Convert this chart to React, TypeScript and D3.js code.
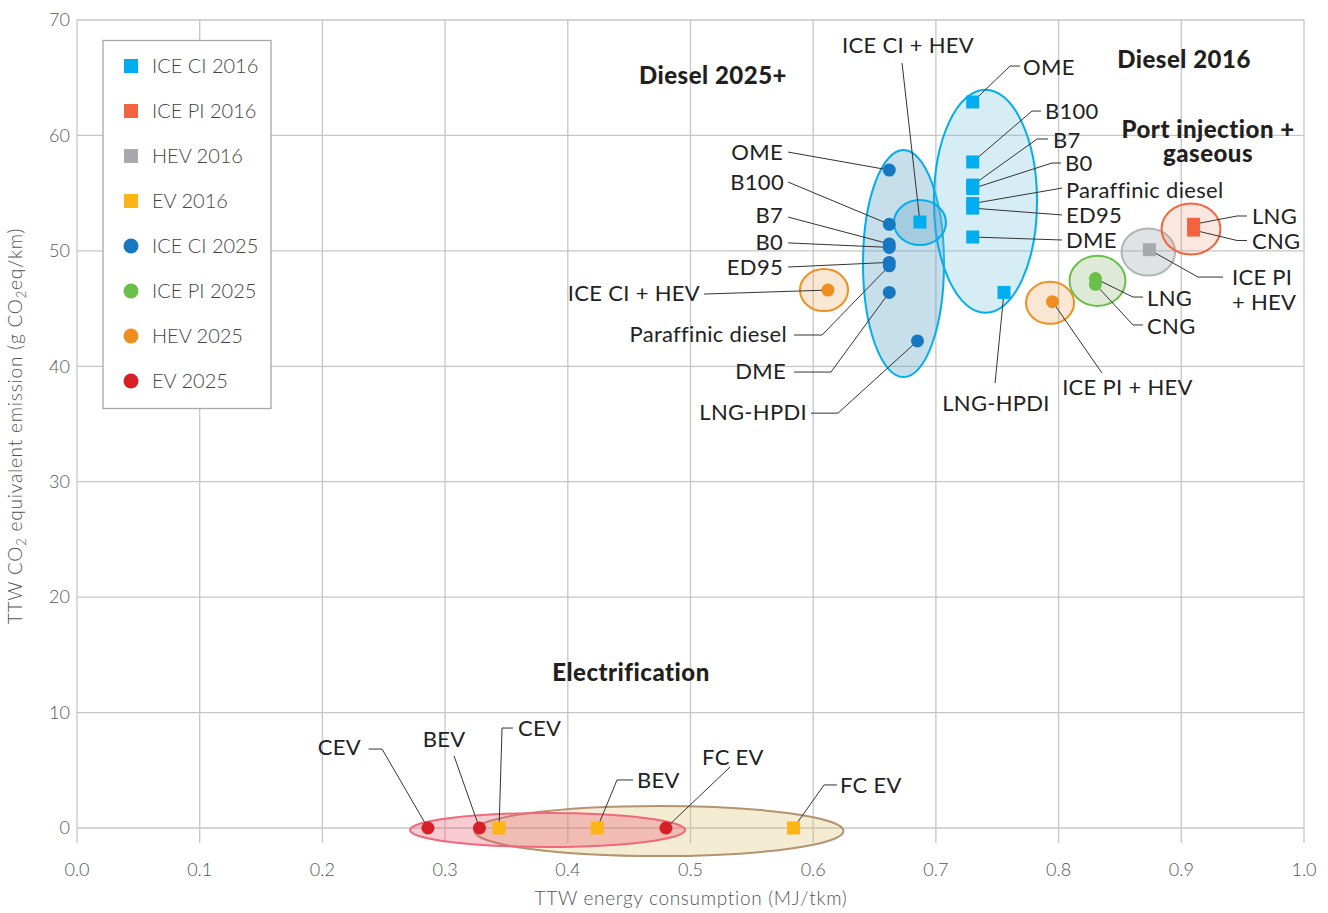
import * as d3 from 'd3';

// axis ticks
const xTicks = [0, 0.1, 0.2, 0.3, 0.4, 0.5, 0.6, 0.7, 0.8, 0.9, 1.0];
const yTicks = [0, 10, 20, 30, 40, 50, 60, 70];

// legend / series
const seriesNames = ['ICE CI 2016', 'ICE PI 2016', 'HEV 2016', 'EV 2016', 'ICE CI 2025', 'ICE PI 2025', 'HEV 2025', 'EV 2025'];
const seriesColors = ['#00aeef', '#f26440', '#a7a9ac', '#fdb515', '#1677c2', '#6abf4b', '#ee9021', '#d71f27'];
const seriesShapes = ['square', 'square', 'square', 'square', 'circle', 'circle', 'circle', 'circle'];

type Pt = { name: string; x: number; y: number };

// TTW energy (MJ/tkm), TTW CO2eq (g/km)
const iceCi2016: Pt[] = [
  { name: 'OME', x: 0.730, y: 62.9 },
  { name: 'B100', x: 0.730, y: 57.7 },
  { name: 'B7', x: 0.730, y: 55.7 },
  { name: 'B0', x: 0.730, y: 55.4 },
  { name: 'Paraffinic diesel', x: 0.730, y: 54.1 },
  { name: 'ED95', x: 0.730, y: 53.7 },
  { name: 'DME', x: 0.730, y: 51.2 },
  { name: 'LNG-HPDI', x: 0.7555, y: 46.4 },
  { name: 'ICE CI + HEV', x: 0.687, y: 52.5 },
];
const icePi2016: Pt[] = [
  { name: 'LNG', x: 0.910, y: 52.3 },
  { name: 'CNG', x: 0.910, y: 51.8 },
];
const hev2016: Pt[] = [{ name: 'ICE PI + HEV', x: 0.874, y: 50.1 }];
const ev2016: Pt[] = [
  { name: 'CEV', x: 0.344, y: 0 },
  { name: 'BEV', x: 0.424, y: 0 },
  { name: 'FC EV', x: 0.584, y: 0 },
];
const iceCi2025: Pt[] = [
  { name: 'OME', x: 0.662, y: 57.0 },
  { name: 'B100', x: 0.662, y: 52.3 },
  { name: 'B7', x: 0.662, y: 50.6 },
  { name: 'B0', x: 0.662, y: 50.3 },
  { name: 'ED95', x: 0.662, y: 49.0 },
  { name: 'Paraffinic diesel', x: 0.662, y: 48.7 },
  { name: 'DME', x: 0.662, y: 46.4 },
  { name: 'LNG-HPDI', x: 0.685, y: 42.2 },
];
const icePi2025: Pt[] = [
  { name: 'LNG', x: 0.830, y: 47.6 },
  { name: 'CNG', x: 0.830, y: 47.1 },
];
const hev2025: Pt[] = [
  { name: 'ICE CI + HEV', x: 0.612, y: 46.6 },
  { name: 'ICE PI + HEV', x: 0.795, y: 45.6 },
];
const ev2025: Pt[] = [
  { name: 'CEV', x: 0.286, y: 0 },
  { name: 'BEV', x: 0.328, y: 0 },
  { name: 'FC EV', x: 0.480, y: 0 },
];

const allSeries = [iceCi2016, icePi2016, hev2016, ev2016, iceCi2025, icePi2025, hev2025, ev2025];

// group envelopes: centre and radii in data units
const groups = [
  { cx: 0.4743, cy: -0.26, rx: 0.1504, ry: 2.17, fill: '#d9bc6e', op: 0.3, stroke: '#b39472' },
  { cx: 0.3835, cy: -0.17, rx: 0.1121, ry: 1.47, fill: '#e8506a', op: 0.3, stroke: '#f0687c' },
  { cx: 0.6736, cy: 48.9, rx: 0.033, ry: 9.83, fill: '#5ba3c2', op: 0.35, stroke: '#00aeef' },
  { cx: 0.7404, cy: 54.3, rx: 0.042, ry: 9.66, fill: '#7cc4de', op: 0.3, stroke: '#00aeef' },
  { cx: 0.687, cy: 52.45, rx: 0.0212, ry: 1.95, fill: '#5ba3c2', op: 0.3, stroke: '#00aeef' },
  { cx: 0.6088, cy: 46.6, rx: 0.0196, ry: 1.82, fill: '#e8a050', op: 0.25, stroke: '#ee9021' },
  { cx: 0.793, cy: 45.5, rx: 0.0196, ry: 1.82, fill: '#e8a050', op: 0.25, stroke: '#ee9021' },
  { cx: 0.8317, cy: 47.4, rx: 0.0228, ry: 2.17, fill: '#7aa860', op: 0.25, stroke: '#6abf4b' },
  { cx: 0.8731, cy: 49.9, rx: 0.0218, ry: 2.04, fill: '#8e9a9e', op: 0.28, stroke: '#b0b5b7' },
  { cx: 0.9079, cy: 51.9, rx: 0.024, ry: 2.21, fill: '#e8906c', op: 0.22, stroke: '#f26440' },
];

type Ann = {
  lines: string[];
  lx: number; ly: number;
  anchor: 'start' | 'end' | 'middle';
  s: Pt[]; n: string;
  via: [number, number][];
};

// labels with leader lines (via = points from label side towards marker)
const annotations: Ann[] = [
  { lines: ['OME'], lx: 0.5754, ly: 58.56, anchor: 'end', s: iceCi2025, n: 'OME', via: [[0.5795, 58.56]] },
  { lines: ['B100'], lx: 0.5762, ly: 55.96, anchor: 'end', s: iceCi2025, n: 'B100', via: [[0.5795, 55.96]] },
  { lines: ['B7'], lx: 0.5754, ly: 53.11, anchor: 'end', s: iceCi2025, n: 'B7', via: [[0.5795, 52.93]] },
  { lines: ['B0'], lx: 0.5754, ly: 50.77, anchor: 'end', s: iceCi2025, n: 'B0', via: [[0.5795, 50.69]] },
  { lines: ['ED95'], lx: 0.5754, ly: 48.6, anchor: 'end', s: iceCi2025, n: 'ED95', via: [[0.5795, 48.6]] },
  { lines: ['ICE CI + HEV'], lx: 0.5077, ly: 46.35, anchor: 'end', s: hev2025, n: 'ICE CI + HEV', via: [[0.511, 46.26]] },
  { lines: ['Paraffinic diesel'], lx: 0.5786, ly: 42.8, anchor: 'end', s: iceCi2025, n: 'Paraffinic diesel', via: [[0.5844, 42.71], [0.6072, 42.71]] },
  { lines: ['DME'], lx: 0.5778, ly: 39.59, anchor: 'end', s: iceCi2025, n: 'DME', via: [[0.5844, 39.5], [0.6145, 39.5]] },
  { lines: ['LNG-HPDI'], lx: 0.5949, ly: 36.04, anchor: 'end', s: iceCi2025, n: 'LNG-HPDI', via: [[0.5982, 35.94], [0.6202, 35.94]] },
  { lines: ['ICE CI + HEV'], lx: 0.6773, ly: 67.83, anchor: 'middle', s: iceCi2016, n: 'ICE CI + HEV', via: [[0.6724, 66.27]] },

  { lines: ['OME'], lx: 0.771, ly: 65.93, anchor: 'start', s: iceCi2016, n: 'OME', via: [[0.7685, 66.01], [0.7604, 66.01]] },
  { lines: ['B100'], lx: 0.7889, ly: 62.11, anchor: 'start', s: iceCi2016, n: 'B100', via: [[0.7857, 62.11], [0.7783, 62.11]] },
  { lines: ['B7'], lx: 0.7954, ly: 59.6, anchor: 'start', s: iceCi2016, n: 'B7', via: [[0.7914, 59.69], [0.7824, 59.69]] },
  { lines: ['B0'], lx: 0.8052, ly: 57.61, anchor: 'start', s: iceCi2016, n: 'B0', via: [[0.802, 57.61], [0.7946, 57.61]] },
  { lines: ['Paraffinic diesel'], lx: 0.806, ly: 55.27, anchor: 'start', s: iceCi2016, n: 'Paraffinic diesel', via: [[0.8028, 55.44]] },
  { lines: ['ED95'], lx: 0.806, ly: 53.11, anchor: 'start', s: iceCi2016, n: 'ED95', via: [[0.8028, 53.11]] },
  { lines: ['DME'], lx: 0.806, ly: 50.94, anchor: 'start', s: iceCi2016, n: 'DME', via: [[0.8028, 50.94]] },
  { lines: ['LNG-HPDI'], lx: 0.749, ly: 36.82, anchor: 'middle', s: iceCi2016, n: 'LNG-HPDI', via: [[0.7482, 38.55]] },

  { lines: ['ICE PI + HEV'], lx: 0.8561, ly: 38.2, anchor: 'middle', s: hev2025, n: 'ICE PI + HEV', via: [[0.8354, 39.41]] },
  { lines: ['LNG'], lx: 0.8721, ly: 45.91, anchor: 'start', s: icePi2025, n: 'LNG', via: [[0.8688, 46.0], [0.8606, 46.0]] },
  { lines: ['CNG'], lx: 0.8721, ly: 43.49, anchor: 'start', s: icePi2025, n: 'CNG', via: [[0.8688, 43.58], [0.8606, 43.58]] },
  { lines: ['ICE PI', '+ HEV'], lx: 0.9413, ly: 47.74, anchor: 'start', s: hev2016, n: 'ICE PI + HEV', via: [[0.934, 47.73], [0.9136, 47.73]] },
  { lines: ['LNG'], lx: 0.9576, ly: 53.02, anchor: 'start', s: icePi2016, n: 'LNG', via: [[0.9535, 53.02], [0.9454, 53.02]] },
  { lines: ['CNG'], lx: 0.9576, ly: 50.85, anchor: 'start', s: icePi2016, n: 'CNG', via: [[0.9535, 50.9], [0.9454, 50.9]] },

  { lines: ['CEV'], lx: 0.2315, ly: 7.02, anchor: 'end', s: ev2025, n: 'CEV', via: [[0.2376, 6.84], [0.2486, 6.84]] },
  { lines: ['BEV'], lx: 0.2991, ly: 7.71, anchor: 'middle', s: ev2025, n: 'BEV', via: [[0.3073, 6.24]] },
  { lines: ['CEV'], lx: 0.3594, ly: 8.66, anchor: 'start', s: ev2016, n: 'CEV', via: [[0.3553, 8.66], [0.3464, 8.66]] },
  { lines: ['BEV'], lx: 0.4564, ly: 4.16, anchor: 'start', s: ev2016, n: 'BEV', via: [[0.4531, 4.16], [0.4401, 4.16]] },
  { lines: ['FC EV'], lx: 0.5346, ly: 6.15, anchor: 'middle', s: ev2025, n: 'FC EV', via: [[0.5322, 5.28]] },
  { lines: ['FC EV'], lx: 0.6218, ly: 3.73, anchor: 'start', s: ev2016, n: 'FC EV', via: [[0.6194, 3.73], [0.6088, 3.73]] },
];

const titles = [
  { lines: ['Diesel 2025+'], x: 0.5183, y: 65.23 },
  { lines: ['Diesel 2016'], x: 0.9022, y: 66.62 },
  { lines: ['Port injection +', 'gaseous'], x: 0.9218, y: 60.5 },
  { lines: ['Electrification'], x: 0.4515, y: 13.51 },
];

const findPt = (s: Pt[], n: string) => s.find((p) => p.name === n)!;

export default function App() {
  const W = 1328;
  const H = 913;
  const x = d3.scaleLinear().domain([0, 1]).range([77, 1304]);
  const y = d3.scaleLinear().domain([0, 70]).range([828, 20]);
  const line = d3.line<[number, number]>().x((d) => x(d[0])).y((d) => y(d[1]));
  const grid = '#c6c6c6';
  const font = "Lato, 'Open Sans', sans-serif";

  const marker = (shape: string, cx: number, cy: number, color: string, size: number, key: string) =>
    shape === 'square' ? (
      <rect key={key} x={cx - size / 2} y={cy - size / 2} width={size} height={size} fill={color} />
    ) : (
      <circle key={key} cx={cx} cy={cy} r={size / 2} fill={color} />
    );

  return (
    <svg width={W} height={H} style={{ position: 'absolute', left: 0, top: 0, display: 'block', background: '#fff' }} fontFamily={font}>
      {/* grid */}
      {xTicks.map((t) => (
        <line key={'gx' + t} x1={x(t)} x2={x(t)} y1={y(70)} y2={y(0) + 15} stroke={grid} strokeWidth={1.3} />
      ))}
      {yTicks.map((t) => (
        <line key={'gy' + t} x1={x(0)} x2={x(1)} y1={y(t)} y2={y(t)} stroke={grid} strokeWidth={1.3} />
      ))}
      {xTicks.map((t) => (
        <text key={'tx' + t} x={x(t)} y={y(0) + 48} textAnchor="middle" fontSize={18} fontWeight={300} fill="#555">
          {t.toFixed(1)}
        </text>
      ))}
      {yTicks.map((t) => (
        <text key={'ty' + t} x={70} y={y(t)} dy="0.35em" textAnchor="end" fontSize={18} fontWeight={300} fill="#555">
          {t}
        </text>
      ))}
      <text x={691} y={905} textAnchor="middle" fontSize={19} fontWeight={300} letterSpacing={0.7} fill="#555">
        TTW energy consumption (MJ/tkm)
      </text>
      <text transform="translate(22,426) rotate(-90)" textAnchor="middle" fontSize={19} fontWeight={300} letterSpacing={0.8} fill="#555">
        TTW CO<tspan fontSize={13} dy={4}>2</tspan>
        <tspan dy={-4}> equivalent emission (g CO</tspan>
        <tspan fontSize={13} dy={4}>2</tspan>
        <tspan dy={-4}>eq/km)</tspan>
      </text>

      {/* group envelopes */}
      {groups.map((g, i) => (
        <ellipse
          key={'g' + i}
          cx={x(g.cx)}
          cy={y(g.cy)}
          rx={x(g.rx) - x(0)}
          ry={y(0) - y(g.ry)}
          fill={g.fill}
          fillOpacity={g.op}
          stroke={g.stroke}
          strokeWidth={2}
        />
      ))}

      {/* leader lines */}
      {annotations.map((a, i) => {
        const p = findPt(a.s, a.n);
        const pts: [number, number][] = [...a.via, [p.x, p.y]];
        return <path key={'l' + i} d={line(pts) || ''} fill="none" stroke="#333" strokeWidth={1} />;
      })}

      {/* markers */}
      {allSeries.map((s, si) =>
        s.map((p, pi) => marker(seriesShapes[si], x(p.x), y(p.y), seriesColors[si], 13, `m${si}-${pi}`))
      )}

      {/* labels */}
      {annotations.map((a, i) => (
        <text key={'a' + i} x={x(a.lx)} y={y(a.ly)} textAnchor={a.anchor} fontSize={22} letterSpacing={0.3} fill="#222">
          {a.lines.map((l, j) => (
            <tspan key={j} x={x(a.lx)} dy={j === 0 ? '0.36em' : 25}>
              {l}
            </tspan>
          ))}
        </text>
      ))}
      {titles.map((t, i) => (
        <text key={'t' + i} x={x(t.x)} y={y(t.y)} textAnchor="middle" fontSize={24} fontWeight={900} letterSpacing={0.5} fill="#231f20">
          {t.lines.map((l, j) => (
            <tspan key={j} x={x(t.x)} dy={j === 0 ? '0.36em' : 24}>
              {l}
            </tspan>
          ))}
        </text>
      ))}

      {/* legend */}
      <rect x={103} y={40.5} width={168} height={368} fill="#fff" stroke="#a8a8a8" strokeWidth={1.3} />
      {seriesNames.map((n, i) => (
        <g key={'lg' + i} transform={`translate(0,${66 + i * 45})`}>
          {marker(seriesShapes[i], 131, 0, seriesColors[i], seriesShapes[i] === 'square' ? 14 : 15, 'lm' + i)}
          <text x={152} y={0} dy="0.36em" fontSize={20} fontWeight={300} fill="#444">
            {n}
          </text>
        </g>
      ))}
    </svg>
  );
}
